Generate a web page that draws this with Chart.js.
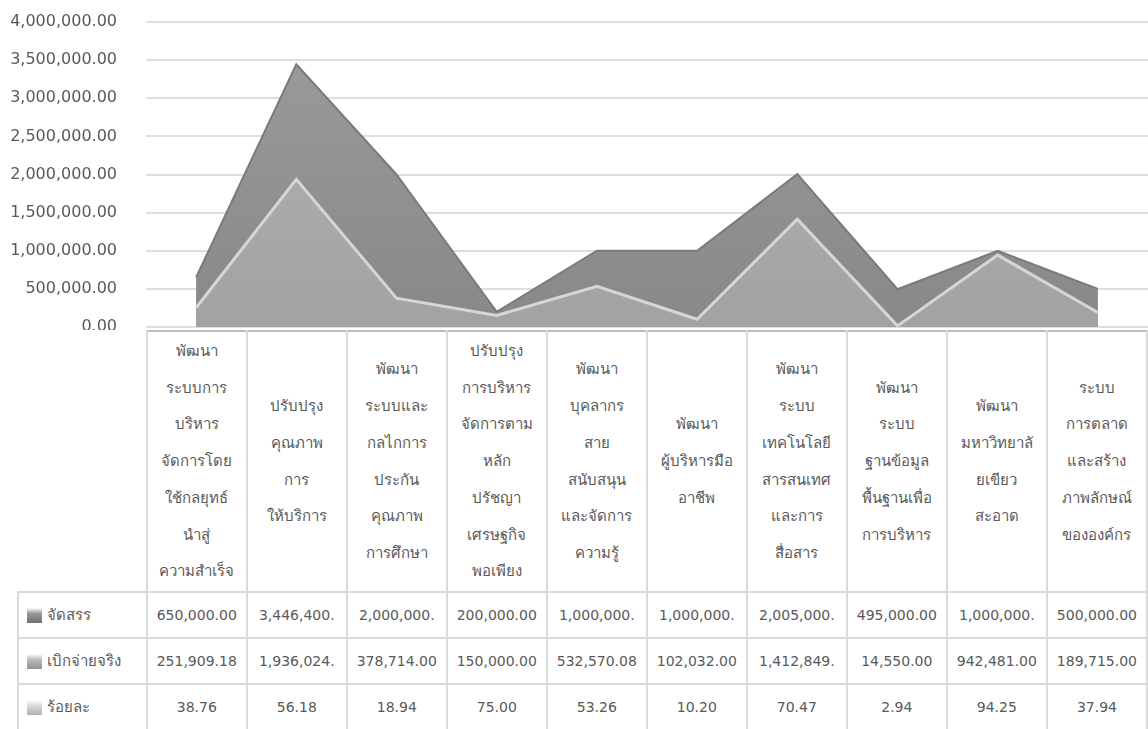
<!DOCTYPE html>
<html>
<head>
<meta charset="utf-8">
<script src="https://cdn.jsdelivr.net/npm/chart.js@4.4.1/dist/chart.umd.min.js"></script>
<style>
  body { margin: 0; background: #fff; font-family: "DejaVu Sans", "Noto Sans", sans-serif; }
  #wrap { position: relative; width: 1148px; height: 729px; overflow: hidden; }
  #chartBox { position: absolute; left: 0; top: 0; width: 1148px; height: 340px; }
  #dataTable {
    position: absolute; left: 17px; top: 330px;
    border-collapse: collapse; table-layout: fixed;
    color: #595959; font-size: 14px; background: #fff;
  }
  #dataTable td, #dataTable th {
    border: 2px solid #dadada; text-align: center; padding: 0;
    font-weight: normal; white-space: nowrap; overflow: hidden;
  }
  #dataTable th { height: 259px; line-height: 36.7px; vertical-align: middle; border-top-color: #bdbdbd; font-size: 15px; }
  #dataTable th.corner { border: none; border-right: 2px solid #dadada; background: transparent; }
  #dataTable td { height: 44px; }
  #dataTable td.name { text-align: left; padding-left: 8px; font-size: 15px; }
  .icon { display: inline-block; width: 15px; height: 15px; margin-right: 5px; vertical-align: -3px; }
</style>
</head>
<body>
<div id="wrap">
  <div id="chartBox"><canvas id="chart"></canvas></div>
  <table id="dataTable"></table>
</div>
<script>
// categories as they wrap in the table header
const categories = [
    ["พัฒนา", "ระบบการ", "บริหาร", "จัดการโดย", "ใช้กลยุทธ์", "นำสู่", "ความสำเร็จ"],
    ["ปรับปรุง", "คุณภาพ", "การ", "ให้บริการ"],
    ["พัฒนา", "ระบบและ", "กลไกการ", "ประกัน", "คุณภาพ", "การศึกษา"],
    ["ปรับปรุง", "การบริหาร", "จัดการตาม", "หลัก", "ปรัชญา", "เศรษฐกิจ", "พอเพียง"],
    ["พัฒนา", "บุคลากร", "สาย", "สนับสนุน", "และจัดการ", "ความรู้"],
    ["พัฒนา", "ผู้บริหารมือ", "อาชีพ"],
    ["พัฒนา", "ระบบ", "เทคโนโลยี", "สารสนเทศ", "และการ", "สื่อสาร"],
    ["พัฒนา", "ระบบ", "ฐานข้อมูล", "พื้นฐานเพื่อ", "การบริหาร"],
    ["พัฒนา", "มหาวิทยาลั", "ยเขียว", "สะอาด"],
    ["ระบบ", "การตลาด", "และสร้าง", "ภาพลักษณ์", "ขององค์กร"]
];
const seriesNames = ["จัดสรร", "เบิกจ่ายจริง", "ร้อยละ"];
const allocated = [650000, 3446400, 2000000, 200000, 1000000, 1000000, 2005000, 495000, 1000000, 500000];
const spent = [251909.18, 1936024, 378714, 150000, 532570.08, 102032, 1412849, 14550, 942481, 189715];
const percent = [38.76, 56.18, 18.94, 75.00, 53.26, 10.20, 70.47, 2.94, 94.25, 37.94];
const yMin = 0, yMax = 4000000, yStep = 500000;

const fmt = v => v.toLocaleString("en-US", { minimumFractionDigits: 2, maximumFractionDigits: 2 });
// Excel cuts off the long numbers in the narrow cells
const cellText = v => { const s = fmt(v); return s.length > 10 ? s.slice(0, 10) : s; };

function grad(top, bottom) {
    return ctx => {
        const area = ctx.chart.chartArea;
        if (!area) return top;
        const g = ctx.chart.ctx.createLinearGradient(0, area.top, 0, area.bottom);
        g.addColorStop(0, top);
        g.addColorStop(1, bottom);
        return g;
    };
}

new Chart(document.getElementById("chart"), {
    type: "line",
    data: {
        labels: categories.map(c => c.join("")),
        datasets: [
            { label: seriesNames[0], data: allocated, order: 3, fill: "origin",
              backgroundColor: grad("#9c9c9c", "#888888"), borderColor: "#7a7a7a",
              borderWidth: 2, pointRadius: 0, tension: 0 },
            { label: seriesNames[1], data: spent, order: 2, fill: "origin",
              backgroundColor: grad("#b4b4b4", "#a2a2a2"), borderColor: "#d6d6d6",
              borderWidth: 3, pointRadius: 0, tension: 0 },
            { label: seriesNames[2], data: percent, order: 1, fill: "origin",
              backgroundColor: "#c4c4c4", borderWidth: 0, pointRadius: 0 }
        ]
    },
    options: {
        responsive: true,
        maintainAspectRatio: false,
        animation: false,
        layout: { padding: { left: 0, right: 0, top: 22, bottom: 13 } },
        plugins: { legend: { display: false } },
        scales: {
            x: { display: false, offset: true },
            y: {
                min: yMin, max: yMax,
                border: { display: false },
                // invisible tick marks give the gap between labels and plot
                grid: { color: "#dedede", lineWidth: 2, drawTicks: true, tickLength: 29, tickColor: "rgba(0,0,0,0)" },
                ticks: {
                    stepSize: yStep, padding: 0, color: "#595959",
                    font: { family: "DejaVu Sans", size: 16 },
                    callback: v => fmt(v)
                },
                afterFit: s => { s.width = 146; }
            }
        }
    }
});

// data table under the chart
const table = document.getElementById("dataTable");
let html = '<colgroup><col style="width:129px">' + categories.map(() => '<col style="width:100.2px">').join("") + '</colgroup>';
html += '<tr><th class="corner"></th>' + categories.map(c => "<th>" + c.join("<br>") + "</th>").join("") + "</tr>";
const rows = [allocated, spent, percent];
const iconColors = [["#9a9a9a", "#6e6e6e"], ["#bdbdbd", "#929292"], ["#dcdcdc", "#b0b0b0"]];
rows.forEach((vals, i) => {
    const ic = iconColors[i];
    html += '<tr><td class="name"><span class="icon" style="background:linear-gradient(#fff 0,' + ic[0] + ' 35%,' + ic[1] + ' 100%)"></span>' + seriesNames[i] + "</td>";
    html += vals.map(v => "<td>" + cellText(v) + "</td>").join("") + "</tr>";
});
table.innerHTML = html;
</script>
</body>
</html>
